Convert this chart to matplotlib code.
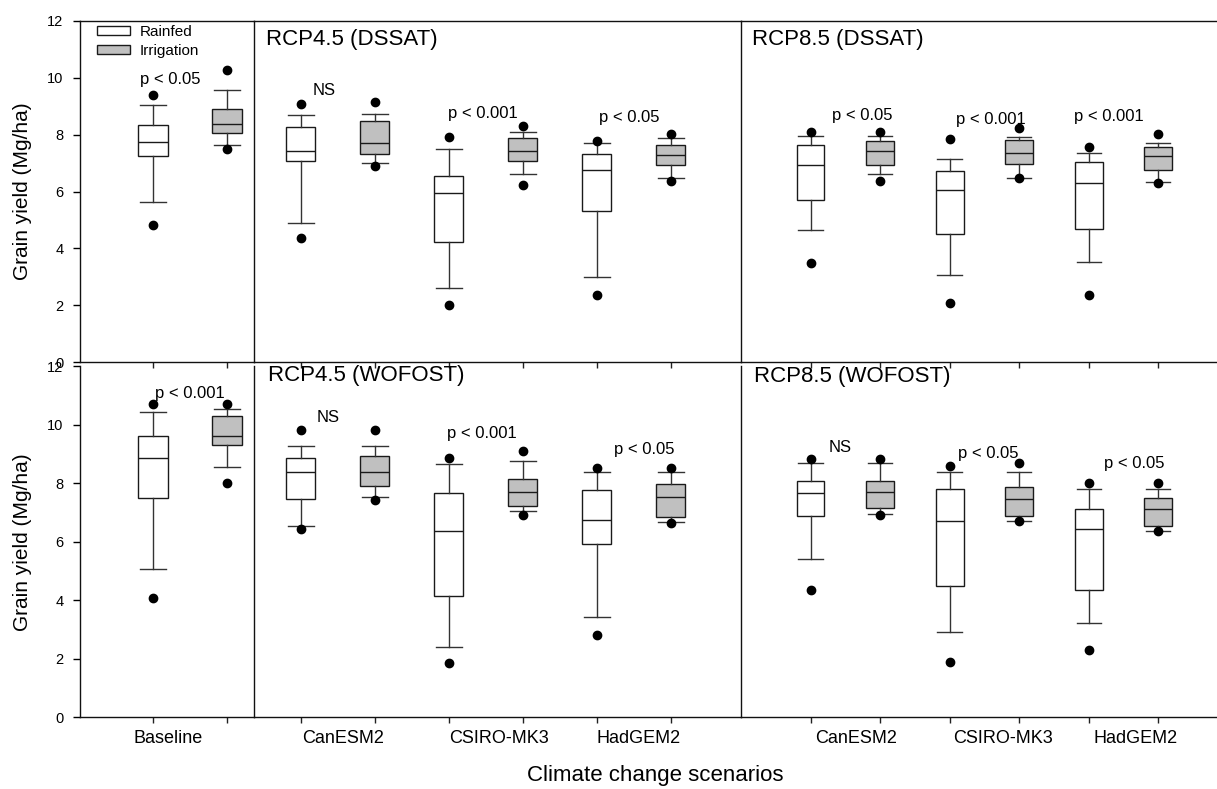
import matplotlib
matplotlib.use("Agg")
import matplotlib.pyplot as plt
from matplotlib.patches import Patch

plt.rcParams['font.family'] = ['Liberation Sans', 'DejaVu Sans']

# ---------------- data (Mg/ha) ----------------
# each box: [low dot, lower whisker, Q1, median, Q3, upper whisker, high dot]
models = ['CanESM2', 'CSIRO-MK3', 'HadGEM2']
baseline_label = ['Baseline']
yticks = [0, 2, 4, 6, 8, 10, 12]

baseline_dssat_rainfed = [[4.81, 5.63, 7.25, 7.75, 8.34, 9.04, 9.38]]
baseline_dssat_irrig = [[7.51, 7.64, 8.05, 8.39, 8.90, 9.58, 10.26]]
rcp45_dssat_rainfed = [[4.35, 4.90, 7.07, 7.42, 8.27, 8.69, 9.09],
                       [1.99, 2.62, 4.23, 5.95, 6.54, 7.51, 7.91],
                       [2.37, 2.98, 5.32, 6.75, 7.33, 7.70, 7.79]]
rcp45_dssat_irrig = [[6.91, 7.02, 7.32, 7.72, 8.48, 8.71, 9.16],
                     [6.23, 6.63, 7.07, 7.43, 7.90, 8.08, 8.32],
                     [6.37, 6.47, 6.94, 7.28, 7.65, 7.89, 8.03]]
rcp85_dssat_rainfed = [[3.50, 4.65, 5.69, 6.94, 7.65, 7.95, 8.10],
                       [2.09, 3.05, 4.49, 6.04, 6.73, 7.15, 7.84],
                       [2.35, 3.51, 4.69, 6.30, 7.04, 7.35, 7.57]]
rcp85_dssat_irrig = [[6.37, 6.63, 6.94, 7.41, 7.76, 7.96, 8.09],
                     [6.47, 6.47, 6.97, 7.34, 7.81, 7.92, 8.24],
                     [6.30, 6.35, 6.77, 7.24, 7.57, 7.72, 8.02]]

baseline_wofost_rainfed = [[4.08, 5.08, 7.50, 8.87, 9.61, 10.42, 10.71]]
baseline_wofost_irrig = [[8.02, 8.56, 9.29, 9.60, 10.28, 10.54, 10.71]]
rcp45_wofost_rainfed = [[6.42, 6.54, 7.46, 8.39, 8.87, 9.26, 9.80],
                        [1.84, 2.39, 4.14, 6.38, 7.65, 8.66, 8.86],
                        [2.82, 3.44, 5.92, 6.75, 7.76, 8.37, 8.51]]
rcp45_wofost_irrig = [[7.41, 7.52, 7.90, 8.39, 8.92, 9.26, 9.80],
                      [6.91, 7.03, 7.21, 7.69, 8.15, 8.77, 9.10],
                      [6.65, 6.67, 6.83, 7.52, 7.97, 8.37, 8.51]]
rcp85_wofost_rainfed = [[4.36, 5.40, 6.89, 7.66, 8.08, 8.67, 8.81],
                        [1.90, 2.91, 4.49, 6.72, 7.79, 8.38, 8.59],
                        [2.31, 3.21, 4.35, 6.43, 7.11, 7.80, 8.02]]
rcp85_wofost_irrig = [[6.91, 6.95, 7.16, 7.68, 8.08, 8.67, 8.81],
                      [6.69, 6.70, 6.88, 7.45, 7.88, 8.38, 8.68],
                      [6.35, 6.35, 6.55, 7.11, 7.50, 7.80, 8.02]]

# significance labels
sig_baseline_dssat = ['p < 0.05']
sig_rcp45_dssat = ['NS', 'p < 0.001', 'p < 0.05']
sig_rcp85_dssat = ['p < 0.05', 'p < 0.001', 'p < 0.001']
sig_baseline_wofost = ['p < 0.001']
sig_rcp45_wofost = ['NS', 'p < 0.001', 'p < 0.05']
sig_rcp85_wofost = ['NS', 'p < 0.05', 'p < 0.05']

# ---------------- layout ----------------
W, H = 1217, 789
fig = plt.figure(figsize=(W / 100, H / 100), dpi=100)


def fig_rect(x0, x1, ytop, ybot):
    return [x0 / W, 1 - ybot / H, (x1 - x0) / W, (ybot - ytop) / H]


RAIN_FC = 'white'
IRR_FC = '#c0c0c0'
EDGE = '#1a1a1a'


def draw(ax, rainfed, irrig, xlim, sig, sig_pos, cat_labels, cat_pos,
         show_y, title=None, title_xy=None, bottom_row=False):
    stats, pos, fcs = [], [], []
    for i, (r, g) in enumerate(zip(rainfed, irrig)):
        for j, s in enumerate((r, g)):
            stats.append(dict(med=s[3], q1=s[2], q3=s[4], whislo=s[1],
                              whishi=s[5], fliers=[s[0], s[6]]))
            pos.append(2 * i + j + 1)
            fcs.append(RAIN_FC if j == 0 else IRR_FC)
    bp = ax.bxp(stats, positions=pos, widths=0.4, capwidths=0.35,
                patch_artist=True, manage_ticks=False,
                boxprops=dict(edgecolor=EDGE, linewidth=1.0),
                medianprops=dict(color=EDGE, linewidth=1.0),
                whiskerprops=dict(color='#333333', linewidth=1.0),
                capprops=dict(color='#333333', linewidth=1.0),
                flierprops=dict(marker='o', markerfacecolor='black',
                                markeredgecolor='black', markersize=6))
    for patch, fc in zip(bp['boxes'], fcs):
        patch.set_facecolor(fc)
    ax.set_xlim(*xlim)
    ax.set_ylim(0, 12)
    ax.set_xticks(pos)
    ax.set_xticklabels([])
    ax.tick_params(axis='x', which='major', direction='out', length=4,
                   width=1.0, color='#222222')
    if bottom_row:
        ax.set_xticks(cat_pos, minor=True)
        ax.set_xticklabels(cat_labels, minor=True, fontsize=13)
        ax.tick_params(axis='x', which='minor', length=0, pad=9)
    if show_y:
        ax.set_yticks(yticks)
        ax.set_yticklabels([str(v) for v in yticks], fontsize=10.5)
        ax.tick_params(axis='y', direction='out', length=5, width=1.0, pad=7)
    else:
        ax.set_yticks([])
    for sp in ax.spines.values():
        sp.set_linewidth(1.0)
        sp.set_color('#111111')
    ax.spines['right'].set_visible(False)
    if bottom_row:
        ax.spines['top'].set_visible(False)
    for txt, (tx, ty) in zip(sig, sig_pos):
        ax.text(tx, ty, txt, ha='center', va='center', fontsize=12)
    if title:
        ax.text(title_xy[0], title_xy[1], title, transform=ax.transAxes,
                ha='left', va='center', fontsize=16)
    ax.patch.set_alpha(0)


# top row (DSSAT)
ax1 = fig.add_axes(fig_rect(80, 254, 21, 362))
ax2 = fig.add_axes(fig_rect(254, 741, 21, 362))
ax3 = fig.add_axes(fig_rect(741, 1232, 21, 362))
# bottom row (WOFOST)
ax4 = fig.add_axes(fig_rect(80, 254, 366, 717.3))
ax5 = fig.add_axes(fig_rect(254, 741, 366, 717.3))
ax6 = fig.add_axes(fig_rect(741, 1232, 366, 717.3))

xl_base = (0.014, 2.365)
xl_45 = (0.369, 6.95)
xl_85 = (0.0, 7.06)

draw(ax1, baseline_dssat_rainfed, baseline_dssat_irrig, xl_base,
     sig_baseline_dssat, [(1.23, 9.94)], None, None, True)
draw(ax2, rcp45_dssat_rainfed, rcp45_dssat_irrig, xl_45, sig_rcp45_dssat,
     [(1.315, 9.55), (3.46, 8.76), (5.44, 8.61)], None, None, False,
     'RCP4.5 (DSSAT)', (0.024, 0.947))
draw(ax3, rcp85_dssat_rainfed, rcp85_dssat_irrig, xl_85, sig_rcp85_dssat,
     [(1.75, 8.67), (3.59, 8.55), (5.29, 8.64)], None, None, False,
     'RCP8.5 (DSSAT)', (0.0225, 0.947))
draw(ax4, baseline_wofost_rainfed, baseline_wofost_irrig, xl_base,
     sig_baseline_wofost, [(1.5, 11.07)], baseline_label, [1.2], True,
     bottom_row=True)
draw(ax5, rcp45_wofost_rainfed, rcp45_wofost_irrig, xl_45, sig_rcp45_wofost,
     [(1.37, 10.25), (3.45, 9.69), (5.64, 9.16)], models,
     [1.57, 3.68, 5.57], False, 'RCP4.5 (WOFOST)', (0.029, 0.974),
     bottom_row=True)
draw(ax6, rcp85_wofost_rainfed, rcp85_wofost_irrig, xl_85, sig_rcp85_wofost,
     [(1.42, 9.22), (3.55, 9.0), (5.65, 8.68)], models,
     [1.66, 3.77, 5.67], False, 'RCP8.5 (WOFOST)', (0.027, 0.970),
     bottom_row=True)

# legend
handles = [Patch(facecolor=RAIN_FC, edgecolor=EDGE, linewidth=1.0, label='Rainfed'),
           Patch(facecolor=IRR_FC, edgecolor=EDGE, linewidth=1.0, label='Irrigation')]
ax1.legend(handles=handles, loc='upper left', bbox_to_anchor=(0.095, 0.988),
           frameon=False, fontsize=11, handlelength=2.2, handleheight=0.5,
           handletextpad=0.6, labelspacing=0.3, borderpad=0, borderaxespad=0)

fig.text(23 / W, 1 - 191 / H, 'Grain yield (Mg/ha)', rotation=90,
         ha='center', va='center', fontsize=15)
fig.text(23 / W, 1 - 542 / H, 'Grain yield (Mg/ha)', rotation=90,
         ha='center', va='center', fontsize=15)
fig.text(655 / W, 1 - 775 / H, 'Climate change scenarios',
         ha='center', va='center', fontsize=16)

fig.savefig('out.png', dpi=100)
